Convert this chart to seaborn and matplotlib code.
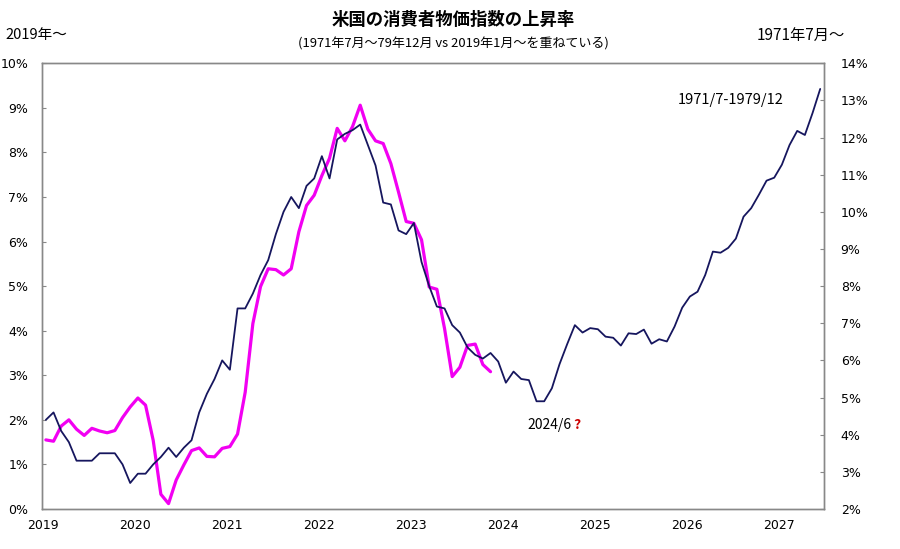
import numpy as np
import pandas as pd
import seaborn as sns
import matplotlib.pyplot as plt
import matplotlib.ticker as ticker

# 1971/7 - 1979/12 (right axis, %)
cpi_1970s = [
    4.4, 4.6, 4.1, 3.8, 3.3, 3.3,
    3.3, 3.5, 3.5, 3.5, 3.2, 2.7, 2.95, 2.95, 3.2, 3.4, 3.65, 3.4,
    3.65, 3.85, 4.6, 5.1, 5.5, 6.0, 5.75, 7.4, 7.4, 7.8, 8.3, 8.7,
    9.4, 10.0, 10.4, 10.1, 10.7, 10.9, 11.5, 10.9, 11.95, 12.1, 12.2, 12.35,
    11.8, 11.25, 10.25, 10.2, 9.5, 9.4, 9.7, 8.65, 8.0, 7.45, 7.4, 6.95,
    6.75, 6.35, 6.15, 6.05, 6.2, 5.97, 5.4, 5.7, 5.5, 5.47, 4.9, 4.9,
    5.25, 5.9, 6.44, 6.95, 6.75, 6.87, 6.84, 6.64, 6.61, 6.4, 6.73, 6.71,
    6.83, 6.45, 6.57, 6.51, 6.91, 7.42, 7.72, 7.85, 8.3, 8.93, 8.9, 9.03,
    9.28, 9.87, 10.1, 10.46, 10.84, 10.92, 11.27, 11.8, 12.18, 12.07, 12.66, 13.31,
]

# 2019/1 - 2023/11 (left axis, %)
cpi_recent = [
    1.55, 1.52, 1.86, 2.0, 1.79, 1.65, 1.81, 1.75, 1.71, 1.76, 2.05, 2.29,
    2.49, 2.33, 1.54, 0.33, 0.12, 0.65, 0.99, 1.31, 1.37, 1.18, 1.17, 1.36,
    1.40, 1.68, 2.62, 4.16, 4.99, 5.39, 5.37, 5.25, 5.39, 6.22, 6.81, 7.04,
    7.48, 7.87, 8.54, 8.26, 8.58, 9.06, 8.52, 8.26, 8.20, 7.75, 7.11, 6.45,
    6.41, 6.04, 4.98, 4.93, 4.05, 2.97, 3.18, 3.67, 3.70, 3.24, 3.08,
]

year_labels = [str(y) for y in range(2019, 2028)]
left_ticks = list(range(0, 11))
right_ticks = list(range(2, 15))

sns.set_style("white")
plt.rcParams['font.family'] = ['Noto Sans CJK JP', 'DejaVu Sans']
plt.rcParams['text.color'] = 'black'
tick_font = 'Liberation Sans Narrow'

df_old = pd.DataFrame({"month": np.arange(len(cpi_1970s)) + 0.4, "rate": cpi_1970s})
df_new = pd.DataFrame({"month": np.arange(len(cpi_recent)) + 0.4, "rate": cpi_recent})

fig = plt.figure(figsize=(9, 5.49), dpi=100)
ax = fig.add_axes([0.0467, 0.0729, 0.8689, 0.8118])
ax2 = ax.twinx()

sns.lineplot(data=df_new, x="month", y="rate", ax=ax, color="#f200f2", linewidth=2.3)
sns.lineplot(data=df_old, x="month", y="rate", ax=ax2, color="#16165e", linewidth=1.3)

ax.set_xlim(-0.1, 101.9)
ax.set_ylim(0, 10)
ax2.set_ylim(2, 14)
ax.set_xticks([12 * i for i in range(len(year_labels))])
ax.set_xticklabels(year_labels)
ax.set_yticks(left_ticks)
ax2.set_yticks(right_ticks)
ax.yaxis.set_major_formatter(ticker.FormatStrFormatter('%d%%'))
ax2.yaxis.set_major_formatter(ticker.FormatStrFormatter('%d%%'))
for a in (ax, ax2):
    a.set_xlabel("")
    a.set_ylabel("")
    for s in a.spines.values():
        s.set_color("#888888")
        s.set_linewidth(1.0)
    a.tick_params(direction='in', length=3, color='#888888', labelsize=9,
                  labelcolor='black', labelfontfamily=tick_font)
ax.tick_params(axis='y', pad=10)
ax.tick_params(axis='x', pad=7, length=4)
ax2.tick_params(axis='y', pad=12)

fig.text(0.504, 0.963, "米国の消費者物価指数の上昇率", ha='center', va='center',
         fontsize=12.5, fontweight='bold')
fig.text(0.504, 0.92, "(1971年7月～79年12月 vs 2019年1月～を重ねている)", ha='center',
         va='center', fontsize=9.4)
fig.text(0.006, 0.936, "2019年～", ha='left', va='center', fontsize=10.5)
fig.text(0.939, 0.936, "1971年7月～", ha='right', va='center', fontsize=11)

ax.text(0.881, 0.918, "1971/7-1979/12", transform=ax.transAxes, ha='center',
        va='center', fontsize=10.5)
ax.text(0.621, 0.188, "2024/6", transform=ax.transAxes, ha='left', va='center',
        fontsize=10)
ax.text(0.679, 0.188, "?", transform=ax.transAxes, ha='left', va='center',
        fontsize=10, color='#cc0000', fontweight='bold')

fig.savefig("out.png", dpi=100)
